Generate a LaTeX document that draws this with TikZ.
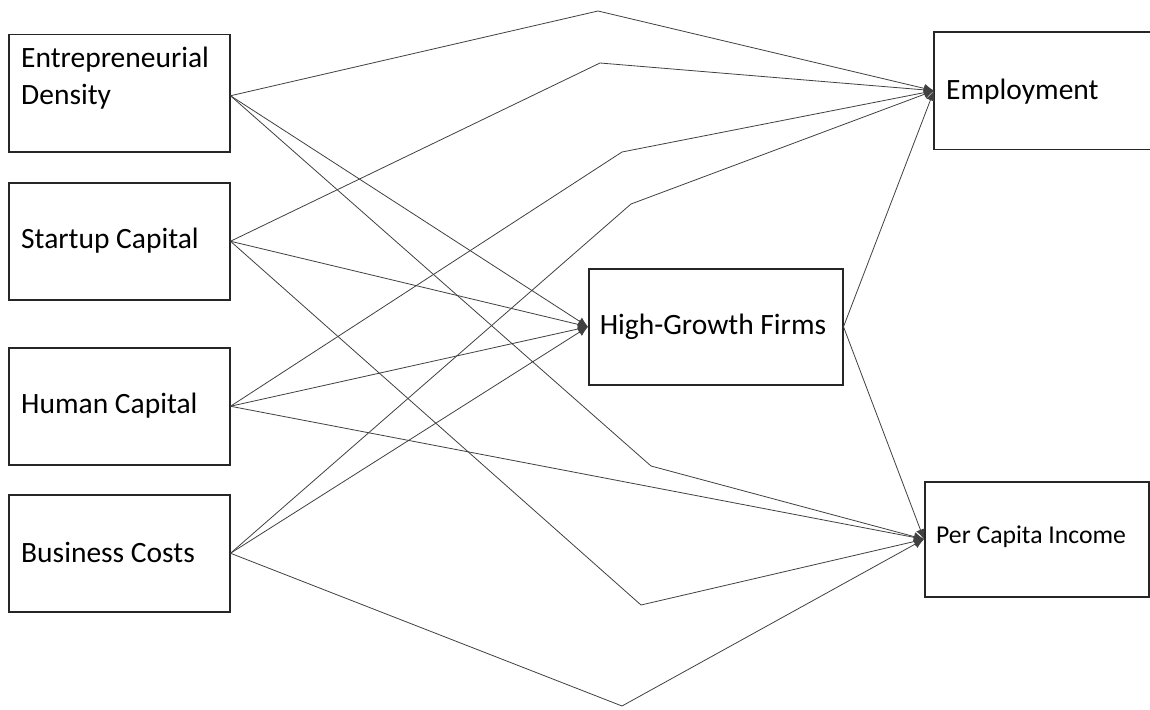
\documentclass[tikz,border=0pt]{standalone}
\usepackage{fontspec}
\setmainfont{Carlito}
\usetikzlibrary{arrows.meta}
\begin{document}
\begin{tikzpicture}[x=1pt,y=-1pt,
  box/.style={draw=black!85, line width=1.5pt, minimum width=221pt, minimum height=117pt, inner sep=0pt, anchor=north west},
  lbl/.style={inner sep=0pt, anchor=west, align=left, font=\fontsize{29.5}{37}\selectfont},
  conn/.style={draw=black!75, line width=0.8pt, -{Latex[length=10pt,width=9pt]}},
  plain/.style={draw=black!70, line width=0.8pt}]
\useasboundingbox (0,0) rectangle (1150,709);
% left boxes
\node[box] (ed) at (8,34) {};
\node[lbl] (edt) at (21,78) {Entrepreneurial\\Density};
\node[box] (sc) at (8,182) {};
\node[lbl] (sct) at (21,241) {Startup Capital};
\node[box] (hc) at (8,347) {};
\node[lbl] (hct) at (21,406) {Human Capital};
\node[box] (bc) at (8,494) {};
\node[lbl] (bct) at (21,552) {Business Costs};
% middle
\node[box, minimum width=254pt, minimum height=116pt] (hgf) at (588,268) {};
\node[lbl, anchor=center] (hgft) at (713,327) {High-Growth Firms};
% employment (cut at right edge)
\node[inner sep=0pt, minimum width=218pt, minimum height=117pt, anchor=north west] (emp) at (934,32) {};
\draw[line width=1.5pt, draw=black!85] (emp.north east) -- (emp.north west) -- (emp.south west) -- (emp.south east);
\node[lbl] (empt) at (946,92) {Employment};
% per capita income
\node[box, minimum width=224pt, minimum height=115pt] (pci) at (924,481) {};
\node[lbl, font=\fontsize{25.7}{30}\selectfont] (pcit) at (936,537) {Per Capita Income};
% source point of Entrepreneurial Density
\coordinate (edo) at ([yshift=-2.5pt]ed.east);
% bend points
\coordinate (b1) at (598,11);
\coordinate (b2) at (600,63);
\coordinate (b3) at (622,152);
\coordinate (b4) at (631,204);
\coordinate (b5) at (651,466);
\coordinate (b6) at (641,605);
\coordinate (b7) at (622,706);
% connectors
\draw[conn] (edo) -- (b1) -- (emp.west);
\draw[conn] (edo) -- (hgf.west);
\draw[conn] (edo) -- (b5) -- (pci.west);
\draw[conn] (sc.east) -- (b2) -- (emp.west);
\draw[conn] (sc.east) -- (hgf.west);
\draw[conn] (sc.east) -- (b6) -- (pci.west);
\draw[conn] (hc.east) -- (b3) -- (emp.west);
\draw[conn] (hc.east) -- (hgf.west);
\draw[conn] (hc.east) -- (pci.west);
\draw[conn] (bc.east) -- (b4) -- (emp.west);
\draw[conn] (bc.east) -- (hgf.west);
\draw[conn] (bc.east) -- (b7) -- (pci.west);
\draw[conn] (hgf.east) -- (emp.west);
\draw[conn] (hgf.east) -- (pci.west);
\end{tikzpicture}
\end{document}
